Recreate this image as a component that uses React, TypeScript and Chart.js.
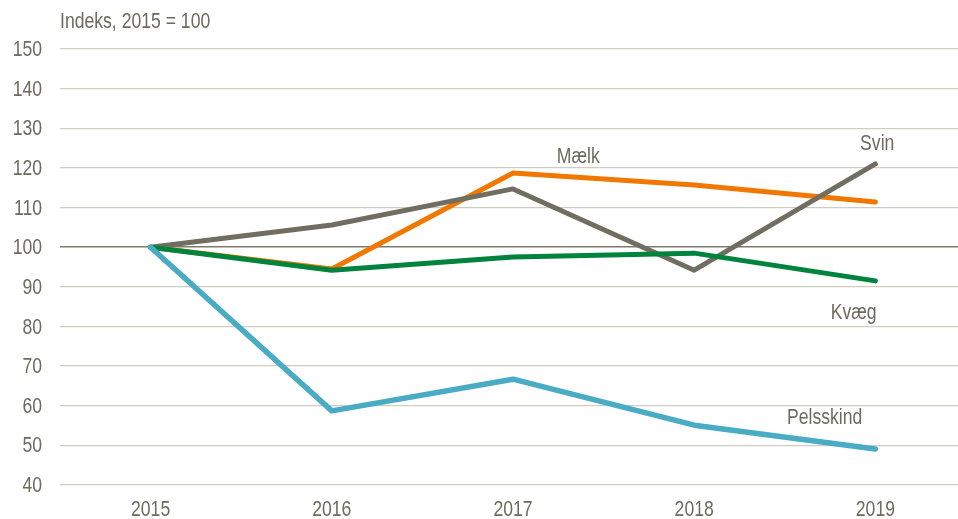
import React, { useEffect, useRef } from "react";
import { Chart, registerables } from "chart.js";

Chart.register(...registerables);

const years = ["2015", "2016", "2017", "2018", "2019"];
const maelk = [100, 94.5, 118.7, 115.7, 111.4];
const svin = [100, 105.6, 114.7, 94.2, 121.0];
const kvaeg = [100, 94.2, 97.5, 98.5, 91.5];
const pelsskind = [100, 58.7, 66.7, 55.1, 49.1];

const yTitle = "Indeks, 2015 = 100";
const seriesNames = ["Mælk", "Svin", "Kvæg", "Pelsskind"];
// label anchors in data coordinates: [category index, value]
const labelAnchors: [number, number][] = [
  [2.36, 122.7],
  [4.01, 126.0],
  [3.88, 83.4],
  [3.72, 56.9],
];

const FONT = "'Liberation Sans', Arial, sans-serif";
const TEXT = "#6c6b5d";
const SQ = 0.8; // horizontal condensing to mimic a narrow face

function drawText(ctx: CanvasRenderingContext2D, t: string, x: number, y: number, align: CanvasTextAlign) {
  ctx.save();
  ctx.translate(x, y);
  ctx.scale(SQ, 1);
  ctx.textAlign = align;
  ctx.fillText(t, 0, 0);
  ctx.restore();
}

const labelPlugin = {
  id: "labels",
  afterDraw(chart: any) {
    const { ctx, chartArea, scales } = chart;
    ctx.save();
    ctx.fillStyle = TEXT;
    ctx.font = `22px ${FONT}`;
    ctx.textBaseline = "middle";
    drawText(ctx, yTitle, chartArea.left, 22, "left");
    scales.y.ticks.forEach((t: any) => {
      drawText(ctx, String(t.value), 42, scales.y.getPixelForValue(t.value) + 1, "right");
    });
    years.forEach((y, i) => {
      drawText(ctx, y, scales.x.getPixelForValue(i), 510, "center");
    });
    const x0 = scales.x.getPixelForValue(0);
    const dx = scales.x.getPixelForValue(1) - x0;
    seriesNames.forEach((n, i) => {
      const [xi, v] = labelAnchors[i];
      drawText(ctx, n, x0 + xi * dx, scales.y.getPixelForValue(v), "center");
    });
    ctx.restore();
  },
};

export default function App() {
  const ref = useRef<HTMLCanvasElement | null>(null);
  useEffect(() => {
    const mk = (label: string, data: number[], color: string, w: number) => ({
      label,
      data,
      borderColor: color,
      backgroundColor: color,
      borderWidth: w,
      pointRadius: 0,
      borderCapStyle: "round" as const,
      borderJoinStyle: "round" as const,
      tension: 0,
    });
    const chart = new Chart(ref.current!, {
      type: "line",
      data: {
        labels: years,
        datasets: [
          mk(seriesNames[3], pelsskind, "#4aabc5", 5.5),
          mk(seriesNames[2], kvaeg, "#00843d", 5),
          mk(seriesNames[1], svin, "#706e60", 5),
          mk(seriesNames[0], maelk, "#f07800", 5),
        ],
      },
      options: {
        animation: false,
        responsive: false,
        maintainAspectRatio: false,
        layout: { padding: { top: 49, bottom: 0, left: 0, right: 0 } },
        plugins: { legend: { display: false }, tooltip: { enabled: false }, title: { display: false } },
        scales: {
          x: {
            offset: true,
            afterFit(s: any) {
              s.height = 34;
            },
            grid: { display: false },
            border: { display: false },
            ticks: { color: "rgba(0,0,0,0)", font: { family: FONT, size: 22 } },
          },
          y: {
            min: 40,
            max: 150,
            afterFit(s: any) {
              s.width = 60;
            },
            ticks: { stepSize: 10, color: "rgba(0,0,0,0)", font: { family: FONT, size: 22 }, padding: 18 },
            border: { display: false },
            grid: {
              drawTicks: false,
              color: (c: any) => (c.tick && c.tick.value === 100 ? "#7d7b6f" : "#cfcdc2"),
              lineWidth: (c: any) => (c.tick && c.tick.value === 100 ? 1.5 : 1.2),
            },
          },
        },
      },
      plugins: [labelPlugin],
    });
    return () => chart.destroy();
  }, []);
  return (
    <div style={{ position: "fixed", left: 0, top: 0, width: 958, height: 519, overflow: "hidden", background: "#fff" }}>
      <canvas ref={ref} width={966} height={519} style={{ display: "block", width: 966, height: 519 }} />
    </div>
  );
}
